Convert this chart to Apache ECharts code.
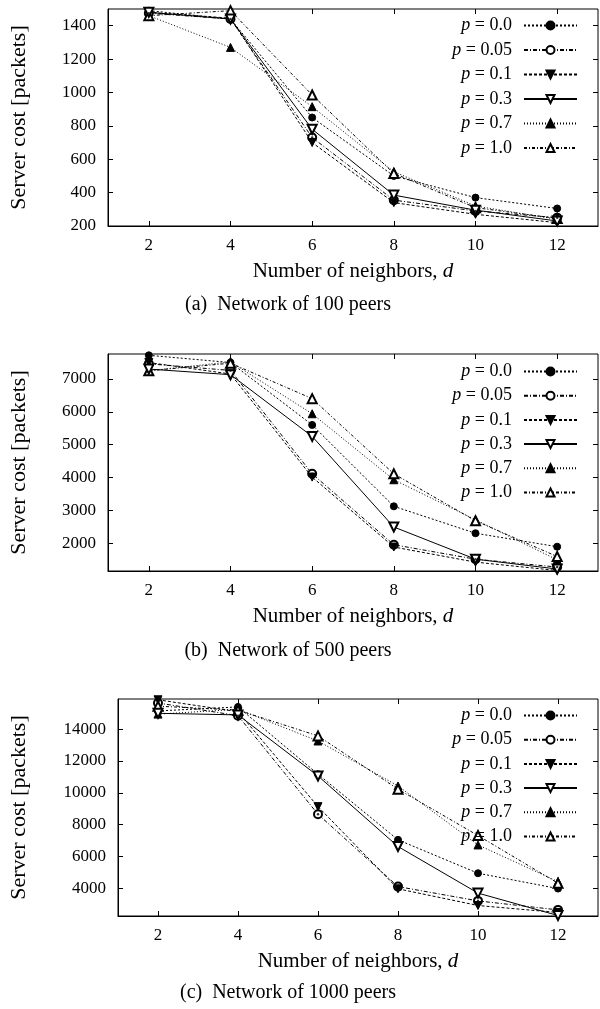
<!DOCTYPE html>
<html>
<head>
<meta charset="utf-8">
<script src="https://cdn.jsdelivr.net/npm/echarts@6/dist/echarts.min.js"></script>
<style>
  html, body { margin: 0; padding: 0; background: #fff; }
  #chart { width: 600px; height: 1009px; }
</style>
</head>
<body>
<div id="chart"></div>
<script>
// ---- data ----
const neighbors = [2, 4, 6, 8, 10, 12];
const seriesNames = ['p = 0.0', 'p = 0.05', 'p = 0.1', 'p = 0.3', 'p = 0.7', 'p = 1.0'];
const xTicks = [2, 4, 6, 8, 10, 12];

// Network of 100 peers
const net100_p00 = [1490, 1440, 850, 500, 370, 305];
const net100_p005 = [1475, 1440, 730, 355, 290, 250];
const net100_p01 = [1480, 1445, 700, 340, 270, 220];
const net100_p03 = [1480, 1440, 780, 385, 295, 230];
const net100_p07 = [1460, 1270, 915, 525, 320, 240];
const net100_p10 = [1460, 1490, 985, 515, 310, 245];
const yTicks100 = [200, 400, 600, 800, 1000, 1200, 1400];

// Network of 500 peers
const net500_p00 = [7720, 7500, 5600, 3120, 2300, 1890];
const net500_p005 = [7460, 7260, 4110, 1950, 1510, 1270];
const net500_p01 = [7500, 7150, 4010, 1880, 1420, 1165];
const net500_p03 = [7300, 7130, 5250, 2490, 1510, 1210];
const net500_p07 = [7250, 7520, 5940, 3930, 2710, 1490];
const net500_p10 = [7250, 7480, 6400, 4110, 2680, 1590];
const yTicks500 = [2000, 3000, 4000, 5000, 6000, 7000];

// Network of 1000 peers
const net1000_p00 = [15150, 15400, 11170, 7040, 4940, 3975];
const net1000_p005 = [15650, 14850, 8650, 4100, 3200, 2635];
const net1000_p01 = [15850, 15100, 9130, 3960, 2910, 2470];
const net1000_p03 = [15000, 14900, 11060, 6620, 3690, 2280];
const net1000_p07 = [14950, 15250, 13260, 10430, 6720, 4415];
const net1000_p10 = [15450, 15200, 13580, 10230, 7310, 4310];
const yTicks1000 = [4000, 6000, 8000, 10000, 12000, 14000];

const captions = ['(a)  Network of 100 peers', '(b)  Network of 500 peers', '(c)  Network of 1000 peers'];

// ---- layout / style ----
const FONT = '"Liberation Serif", "DejaVu Serif", serif';
const panels = [
  { data: [net100_p00, net100_p005, net100_p01, net100_p03, net100_p07, net100_p10], yTicks: yTicks100,
    min: 200, max: 1500, grid: { left: 107, top: 9, width: 491, height: 217 }, legendTop: 16.5, legendGap: 6.5, nameGap: 78, caption: 305 },
  { data: [net500_p00, net500_p005, net500_p01, net500_p03, net500_p07, net500_p10], yTicks: yTicks500,
    min: 1150, max: 7760, grid: { left: 107, top: 354, width: 491, height: 217 }, legendTop: 362.5, legendGap: 6.2, nameGap: 78, caption: 651 },
  { data: [net1000_p00, net1000_p005, net1000_p01, net1000_p03, net1000_p07, net1000_p10], yTicks: yTicks1000,
    min: 2250, max: 15900, grid: { left: 117, top: 699, width: 481, height: 217 }, legendTop: 706.5, legendGap: 6.2, nameGap: 88, caption: 993 }
];

const styles = [
  { symbol: 'circle', size: 7, rotate: 0, dash: [2, 2] },
  { symbol: 'emptyCircle', size: 8, rotate: 0, dash: [4, 2, 1, 2] },
  { symbol: 'triangle', size: 8, rotate: 180, dash: [3, 2] },
  { symbol: 'emptyTriangle', size: 9, rotate: 180, dash: 'solid' },
  { symbol: 'triangle', size: 8, rotate: 0, dash: [1, 2] },
  { symbol: 'emptyTriangle', size: 9, rotate: 0, dash: [3, 2, 1, 2] }
];

const grids = [], xAxes = [], yAxes = [], series = [], legends = [], graphics = [];
const tickBase = { inside: true, length: 5, lineStyle: { color: '#000', width: 1 } };
const plain = v => String(v);

panels.forEach((pn, i) => {
  grids.push(Object.assign({ show: true, borderColor: '#000', borderWidth: 1, backgroundColor: 'transparent' }, pn.grid));
});
panels.forEach((pn, i) => {
  xAxes.push({
    type: 'value', gridIndex: i, min: 1, max: 13, position: 'bottom',
    axisLine: { show: true, onZero: false, lineStyle: { color: '#000', width: 1 } },
    axisTick: Object.assign({ customValues: xTicks }, tickBase),
    axisLabel: { customValues: xTicks, formatter: plain, color: '#000', fontFamily: FONT, fontSize: 17, margin: 11 },
    splitLine: { show: false },
    name: 'Number of neighbors, {i|d}', nameLocation: 'middle', nameGap: 35,
    nameTextStyle: { color: '#000', fontFamily: FONT, fontSize: 21,
      rich: { i: { fontStyle: 'italic', fontFamily: FONT, fontSize: 21, color: '#000' } } }
  });
});
panels.forEach((pn, i) => {
  xAxes.push({
    type: 'value', gridIndex: i, min: 1, max: 13, position: 'top',
    axisLine: { show: false }, axisTick: Object.assign({ customValues: xTicks }, tickBase),
    axisLabel: { show: false }, splitLine: { show: false }
  });
});
panels.forEach((pn, i) => {
  yAxes.push({
    type: 'value', gridIndex: i, min: pn.min, max: pn.max, position: 'left',
    axisLine: { show: true, lineStyle: { color: '#000', width: 1 } },
    axisTick: Object.assign({ customValues: pn.yTicks }, tickBase),
    axisLabel: { customValues: pn.yTicks, formatter: plain, color: '#000', fontFamily: FONT, fontSize: 17, margin: 12 },
    splitLine: { show: false },
    name: 'Server cost [packets]', nameLocation: 'middle', nameRotate: 90, nameGap: pn.nameGap,
    nameTextStyle: { color: '#000', fontFamily: FONT, fontSize: 22 }
  });
});
panels.forEach((pn, i) => {
  yAxes.push({
    type: 'value', gridIndex: i, min: pn.min, max: pn.max, position: 'right',
    axisLine: { show: false }, axisTick: Object.assign({ customValues: pn.yTicks }, tickBase),
    axisLabel: { show: false }, splitLine: { show: false }
  });
});

panels.forEach((pn, i) => {
  pn.data.forEach((vals, k) => {
    const st = styles[k];
    series.push({
      type: 'line', name: seriesNames[k], xAxisIndex: i, yAxisIndex: i,
      data: neighbors.map((d, j) => [d, vals[j]]),
      symbol: st.symbol, symbolSize: st.size, symbolRotate: st.rotate,
      showAllSymbol: true, clip: false, animation: false,
      lineStyle: { color: '#000', width: 1, type: st.dash },
      itemStyle: { color: '#000', borderColor: '#000', borderWidth: 1 },
      z: k === 3 ? 4 : 3
    });
  });
  // centre dot of the open-circle marker (p = 0.05)
  series.push({
    type: 'scatter', name: 'dot-' + i, xAxisIndex: i, yAxisIndex: i,
    data: neighbors.map((d, j) => [d, pn.data[1][j]]),
    symbol: 'circle', symbolSize: 2.5, itemStyle: { color: '#000' }, z: 5, silent: true, animation: false
  });
  legends.push({
    data: seriesNames, orient: 'vertical', right: 22, top: pn.legendTop, align: 'right', padding: 0,
    itemWidth: 53, itemHeight: 10, itemGap: pn.legendGap, selectedMode: false,
    formatter: name => '{i|p}' + name.substring(1),
    textStyle: { color: '#000', fontFamily: FONT, fontSize: 18, padding: [0, 7, 0, 0],
      rich: { i: { fontStyle: 'italic', fontFamily: FONT, fontSize: 18, color: '#000' } } }
  });
  graphics.push({
    type: 'text', x: 288, y: pn.caption,
    style: { text: captions[i], fill: '#000', font: '20px ' + FONT, textAlign: 'center', textVerticalAlign: 'middle' }
  });
});

const chart = echarts.init(document.getElementById('chart'), null, { renderer: 'canvas' });
chart.setOption({
  backgroundColor: '#fff',
  animation: false,
  grid: grids, xAxis: xAxes, yAxis: yAxes, series: series, legend: legends, graphic: graphics
});
</script>
</body>
</html>
